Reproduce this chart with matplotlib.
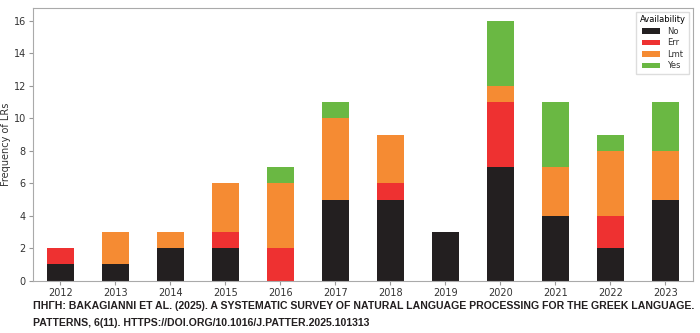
import numpy as np
import matplotlib
matplotlib.use("Agg")
import matplotlib.pyplot as plt

# data
years = ["2012", "2013", "2014", "2015", "2016", "2017",
         "2018", "2019", "2020", "2021", "2022", "2023"]
no_vals = [1, 1, 2, 2, 0, 5, 5, 3, 7, 4, 2, 5]
err_vals = [1, 0, 0, 1, 2, 0, 1, 0, 4, 0, 2, 0]
lmt_vals = [0, 2, 1, 3, 4, 5, 3, 0, 1, 3, 4, 3]
yes_vals = [0, 0, 0, 0, 1, 1, 0, 0, 4, 4, 1, 3]

series = [("No", no_vals, "#231f20"),
          ("Err", err_vals, "#ee3131"),
          ("Lmt", lmt_vals, "#f58b33"),
          ("Yes", yes_vals, "#6ab843")]

caption = ("ΠΗΓΗ: BAKAGIANNI ET AL. (2025). A SYSTEMATIC SURVEY OF NATURAL LANGUAGE "
           "PROCESSING FOR THE GREEK LANGUAGE.\nPATTERNS, 6(11). "
           "HTTPS://DOI.ORG/10.1016/J.PATTER.2025.101313")

fig = plt.figure(figsize=(7, 3.33), dpi=100)
ax = fig.add_axes([0.047, 0.157, 0.943, 0.819])

x = np.arange(len(years))
bottom = np.zeros(len(years))
for label, vals, color in series:
    ax.bar(x, vals, width=0.5, bottom=bottom, color=color, label=label)
    bottom += np.array(vals)

ax.set_xticks(x)
ax.set_xticklabels(years)
ax.set_yticks(range(0, 17, 2))
ax.tick_params(colors="#999999", length=3, pad=2)
ax.tick_params(labelsize=7, labelcolor="#333333")
ax.set_ylabel("Frequency of LRs", fontsize=7, color="#333333", labelpad=2)
ax.set_xlim(-0.5, 11.5)
ax.set_ylim(0, 16.8)
for sp in ax.spines.values():
    sp.set_color("#aaaaaa")

leg = ax.legend(title="Availability", fontsize=6, title_fontsize=6,
                loc="upper right", handlelength=2.2, handleheight=0.6,
                labelspacing=0.3, borderpad=0.4, framealpha=1,
                edgecolor="#dddddd", fancybox=False)
for t in leg.get_texts():
    t.set_color("#333333")

fig.text(0.047, 0.096, caption, fontsize=7.6, fontweight="bold",
         family="Liberation Sans", color="#231f20", va="top", ha="left",
         linespacing=1.85)

fig.savefig("out.png", dpi=100)
